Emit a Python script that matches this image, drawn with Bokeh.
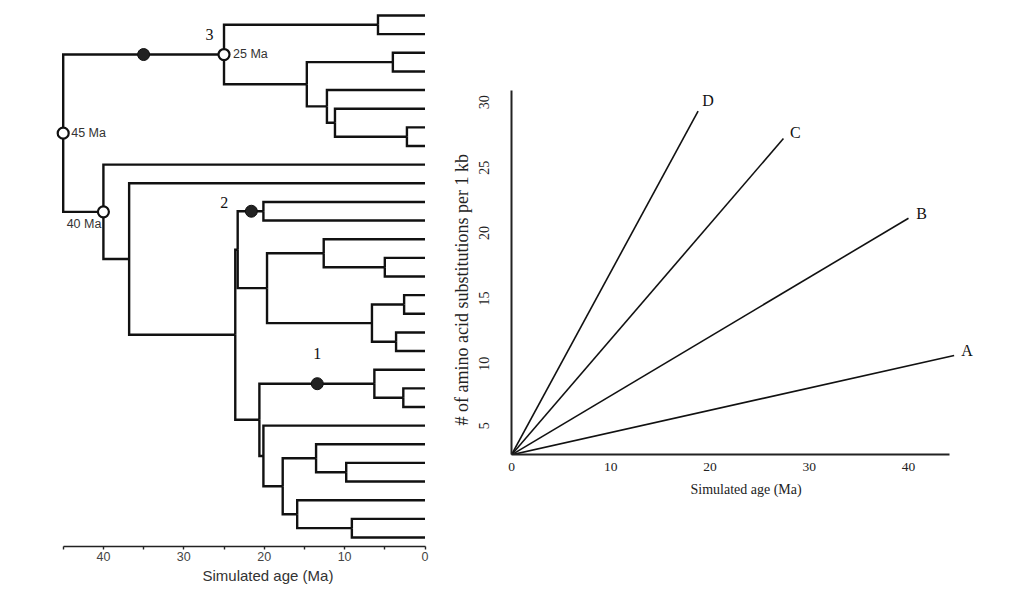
import math
from bokeh.plotting import figure
from bokeh.layouts import row
from bokeh.models import Range1d, FixedTicker, Title, ColumnDataSource
from bokeh.core.properties import value
from bokeh.embed import file_html
from bokeh.resources import INLINE

# ---------------- Tree data (ages in Ma) ----------------
node_ids = ["R", "N3", "N3a", "N3b", "N3b1", "N3b2", "N3b3", "N3b4",
            "N40", "N37", "NA", "NB", "N2", "NB2", "NB2a", "NB2a1", "NB2b",
            "NB2b1", "NB2b2", "NC", "N1", "N1b", "ND", "NDb", "NDb1", "NDb1a",
            "NDb2", "NDb2a"]
node_parents = [None, "R", "N3", "N3", "N3b", "N3b", "N3b2", "N3b3",
                "R", "N40", "N37", "NA", "NB", "NB", "NB2", "NB2a", "NB2",
                "NB2b", "NB2b", "NA", "NC", "N1", "NC", "ND", "NDb", "NDb1",
                "NDb", "NDb2"]
node_ages = [45.0, 25.0, 5.85, 14.7, 4.0, 12.2, 11.2, 2.25,
             40.0, 36.8, 23.6, 23.3, 20.1, 19.65, 12.6, 5.0, 6.6,
             2.6, 3.6, 20.6, 6.3, 2.7, 20.1, 17.7, 13.55, 9.8,
             15.9, 9.1]
# parent of each tip, tips listed top to bottom
leaf_parents = ["N3a", "N3a", "N3b1", "N3b1", "N3b2", "N3b3", "N3b4", "N3b4",
                "N40", "N37", "N2", "N2", "NB2a", "NB2a1", "NB2a1",
                "NB2b1", "NB2b1", "NB2b2", "NB2b2", "N1", "N1b", "N1b",
                "ND", "NDb1", "NDb1a", "NDb1a", "NDb2", "NDb2a", "NDb2a"]

dated_nodes = ["R", "N40", "N3"]
marker_nodes = ["N3", "N2", "N1"]
marker_ages = [35.0, 21.6, 13.4]
marker_labels = ["3", "2", "1"]

tree_ticks = [0, 10, 20, 30, 40]
tree_minor_ticks = [5, 15, 25, 35, 45]

# ---------------- Rate chart data ----------------
series_names = ["A", "B", "C", "D"]
end_age = [44.6, 40.0, 27.4, 18.8]
end_subs = [10.1, 20.6, 26.7, 28.8]
start_age = 0.0
start_subs = 2.5
x_ticks = [0, 10, 20, 30, 40]
y_ticks = [5, 10, 15, 20, 25, 30]

# ---------------- Tree geometry ----------------
age = dict(zip(node_ids, node_ages))
parent = dict(zip(node_ids, node_parents))
children = {n: [] for n in node_ids}
ypos = {}
for i, par in enumerate(leaf_parents):
    lid = "L%d" % i
    ypos[lid] = float(i)
    age[lid] = 0.0
    parent[lid] = par
    children[par].append(lid)
for n, par in zip(node_ids, node_parents):
    if par is not None:
        children[par].append(n)


def gety(n):
    if n in ypos:
        return ypos[n]
    ys = [gety(c) for c in children[n]]
    ypos[n] = (min(ys) + max(ys)) / 2.0
    return ypos[n]


for n in node_ids:
    gety(n)

br_x, br_y = [], []
for n, par in parent.items():
    if par is None:
        continue
    br_x.append([age[par], age[par], age[n]])
    br_y.append([ypos[par], ypos[n], ypos[n]])

INK = "#111111"
SANS = "Liberation Sans"
SERIF = "Liberation Serif"

p1 = figure(frame_width=382, frame_height=538,
            x_range=Range1d(46.58, -0.93), y_range=Range1d(28.483, -0.3755),
            y_axis_location=None, output_backend="svg", toolbar_location=None,
            min_border_left=50, min_border_right=8, min_border_top=8,
            min_border_bottom=0)
p1.frame_align = False
p1.grid.visible = False
p1.outline_line_color = None

p1.multi_line(br_x, br_y, line_color=INK, line_width=2.4, line_join="miter")

# open circles for dated nodes
dn_x = [age[n] for n in dated_nodes]
dn_y = [ypos[n] for n in dated_nodes]
dn_lab = ["%d Ma" % round(age[n]) for n in dated_nodes]
p1.scatter(dn_x, dn_y, size=11, fill_color="white", line_color=INK, line_width=2.2)
dsrc = ColumnDataSource(dict(x=dn_x, y=dn_y, t=dn_lab,
                             dx=[8, -2, 9], dy=[0, 12, -1],
                             al=["left", "right", "left"]))
p1.text(x="x", y="y", text="t", source=dsrc, x_offset="dx", y_offset="dy",
        text_align="al", text_baseline="middle", text_font=value(SANS),
        text_font_size="12.5px", text_color="#333333")

# filled markers on branches
mk_y = [ypos[n] for n in marker_nodes]
p1.scatter(marker_ages, mk_y, size=12, fill_color="#222222", line_color=INK, line_width=1)
msrc = ColumnDataSource(dict(x=marker_ages, y=mk_y, t=marker_labels,
                             dx=[66, -27, 0], dy=[-20, -9, -30]))
p1.text(x="x", y="y", text="t", source=msrc, x_offset="dx", y_offset="dy",
        text_align="center", text_baseline="middle", text_font=value(SERIF),
        text_font_size="16px", text_color=INK)

ax = p1.xaxis[0]
ax.bounds = (0, 45)
ax.ticker = FixedTicker(ticks=tree_ticks, minor_ticks=tree_minor_ticks)
ax.axis_line_color = "#222222"
ax.axis_line_width = 1.6
ax.major_tick_line_color = "#222222"
ax.minor_tick_line_color = "#222222"
ax.major_tick_line_width = 1.4
ax.minor_tick_line_width = 1.4
ax.major_tick_out = 3
ax.major_tick_in = 0
ax.minor_tick_out = 3
ax.minor_tick_in = 0
ax.major_label_standoff = 2
ax.major_label_text_font = SANS
ax.major_label_text_font_size = "12.5px"
ax.major_label_text_color = "#444444"
p1.add_layout(Title(text="Simulated age (Ma)", align="left", offset=152,
                    text_font=SANS, text_font_size="15px", text_font_style="normal",
                    text_color="#333333", standoff=3), "below")

# ---------------- Rate chart ----------------
p2 = figure(frame_width=489, frame_height=370,
            x_range=Range1d(0, 49.27), y_range=Range1d(2.525, 30.83),
            output_backend="svg", toolbar_location=None,
            min_border_left=71, min_border_right=16, min_border_top=84,
            min_border_bottom=0)
p2.frame_align = False
p2.grid.visible = False
p2.outline_line_color = None

p2.segment(x0=[start_age] * len(end_age), y0=[start_subs] * len(end_subs),
           x1=end_age, y1=end_subs, line_color=INK, line_width=1.6)
lsrc = ColumnDataSource(dict(x=end_age, y=end_subs, t=series_names,
                             dx=[13, 13, 12, 10], dy=[-5, -5, -6, -11]))
p2.text(x="x", y="y", text="t", source=lsrc, x_offset="dx", y_offset="dy",
        text_align="center", text_baseline="middle", text_font=value(SERIF),
        text_font_size="16px", text_color=INK)

xa = p2.xaxis[0]
xa.bounds = (0, 44.13)
xa.ticker = FixedTicker(ticks=x_ticks, minor_ticks=[])
xa.axis_line_color = "#222222"
xa.axis_line_width = 2
xa.major_tick_out = 0
xa.major_tick_in = 0
xa.minor_tick_out = 0
xa.minor_tick_in = 0
xa.major_label_standoff = 8
xa.major_label_text_font = SERIF
xa.major_label_text_font_size = "13.5px"
xa.major_label_text_color = "#222222"

ya = p2.yaxis[0]
ya.bounds = (2.525, 30.37)
ya.ticker = FixedTicker(ticks=y_ticks, minor_ticks=[])
ya.axis_line_color = "#222222"
ya.axis_line_width = 2
ya.major_tick_out = 0
ya.major_tick_in = 0
ya.minor_tick_out = 0
ya.minor_tick_in = 0
ya.major_label_orientation = math.pi / 2
ya.major_label_standoff = 27
ya.major_label_text_font = SERIF
ya.major_label_text_font_size = "14px"
ya.major_label_text_color = "#222222"

p2.add_layout(Title(text="Simulated age (Ma)", align="left", offset=179,
                    text_font=SERIF, text_font_size="14px", text_font_style="normal",
                    text_color="#222222", standoff=13), "below")
p2.add_layout(Title(text="# of amino acid substitutions per 1 kb", align="left",
                    offset=29, text_font=SERIF, text_font_size="18px",
                    text_font_style="normal", text_color="#222222", standoff=0), "left")

layout = row(p1, p2)
open("out.html", "w").write(file_html(layout, INLINE))
